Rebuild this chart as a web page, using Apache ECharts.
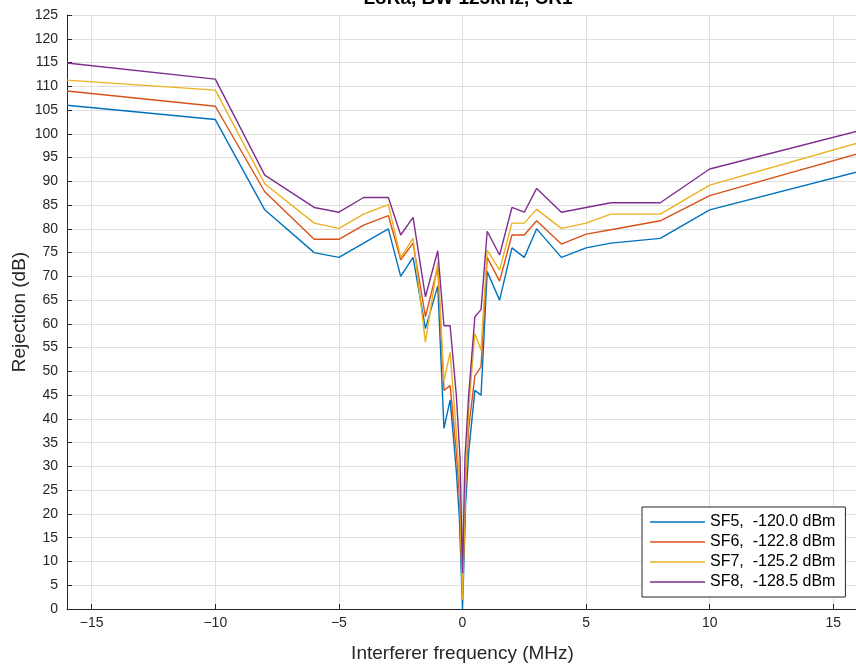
<!DOCTYPE html>
<html>
<head>
<meta charset="utf-8">
<script src="https://cdn.jsdelivr.net/npm/echarts@6/dist/echarts.min.js"></script>
<style>
html,body{margin:0;padding:0;background:#fff;}
#chart{width:856px;height:667px;}
</style>
</head>
<body>
<div id="chart"></div>
<script>
// Interferer frequency offsets (MHz)
var freq = [-16,-10,-8,-6,-5,-4,-3,-2.5,-2,-1.5,-1,-0.75,-0.5,-0.25,-0.125,-0.1,0,0.1,0.125,0.25,0.5,0.75,1,1.5,2,2.5,3,4,5,6,8,10,16];
// Rejection (dB)
var sf5 = [106,103,84,75,74,77,80,70,74,59,68,38,44,29,19,15,0,17,22,33,46,45,71,65,76,74,80,74,76,77,78,84,92];
var sf6 = [109,105.8,87.8,77.8,77.8,80.8,82.8,73.5,77,61.5,72,46,47,33,24,19,5,20,26,38,49,51,74,69,78.7,78.7,81.7,76.8,78.9,79.8,81.7,87,95.8];
var sf7 = [111.3,109.2,89.5,81.2,80.1,83.1,85.1,74,78,56.1,73,48,54,37,27,23,2,22,27,42,58,54.5,75.5,71.3,81.2,81.2,84.1,80.1,81.2,83.1,83.1,89.2,98.1];
var sf8 = [114.9,111.5,91.3,84.5,83.5,86.6,86.6,78.7,82.4,65.7,75.4,59.6,59.6,45,34,32,7.5,32,34,45,61.5,63,79.5,74.5,84.5,83.5,88.5,83.5,84.5,85.5,85.5,92.6,100.6];
var seriesNames = ['SF5,  -120.0 dBm','SF6,  -122.8 dBm','SF7,  -125.2 dBm','SF8,  -128.5 dBm'];
var xTicks = [-15,-10,-5,0,5,10,15];
var titleText = 'LoRa, BW 125kHz, CR1';
var xName = 'Interferer frequency (MHz)';
var yName = 'Rejection (dB)';

var colors = ['#0072BD','#D95319','#EDB120','#7E2F8E'];
var allSeries = [sf5, sf6, sf7, sf8];
function pairs(ys){ return freq.map(function(x,i){ return [x, ys[i]]; }); }
function fmt(v){ return String(v).replace('-', '\u2212'); }

var font = '"Liberation Sans", Arial, Helvetica, sans-serif';
var chart = echarts.init(document.getElementById('chart'), null, {renderer:'canvas'});
chart.setOption({
  backgroundColor:'#ffffff',
  animation:false,
  title:{
    text:titleText, left:463, textAlign:'center', top:-16,
    textStyle:{fontFamily:font, fontSize:19, fontWeight:'bold', color:'#000'}
  },
  grid:{left:67, right:-2, top:15, bottom:58, containLabel:false, outerBoundsMode:'none'},
  legend:{
    orient:'vertical', left:642, top:507,
    backgroundColor:'#fff', borderColor:'#262626', borderWidth:1, borderRadius:0,
    padding:[7,10,7,8], itemGap:4, itemWidth:55, itemHeight:16,
    textStyle:{fontFamily:font, fontSize:16, color:'#000'},
    data:seriesNames.map(function(n){ return {name:n, icon:'path://M0,0 L55,0 L55,1.4 L0,1.4 Z'}; })
  },
  xAxis:{
    type:'value', min:-16, max:16,
    name:xName, nameLocation:'middle', nameGap:35, nameMoveOverlap:false,
    nameTextStyle:{fontFamily:font, fontSize:19, color:'#262626'},
    axisLine:{show:true, onZero:false, lineStyle:{color:'#262626', width:1}},
    axisTick:{show:true, inside:true, length:5, customValues:xTicks, lineStyle:{color:'#262626'}},
    axisLabel:{customValues:xTicks, formatter:fmt, fontFamily:font, fontSize:14, color:'#262626', margin:7},
    splitLine:{show:true, lineStyle:{color:'#dfdfdf', width:1}}
  },
  yAxis:{
    type:'value', min:0, max:125, interval:5,
    name:yName, nameLocation:'middle', nameGap:38, nameMoveOverlap:false,
    nameTextStyle:{fontFamily:font, fontSize:19, color:'#262626'},
    axisLine:{show:true, onZero:false, lineStyle:{color:'#262626', width:1}},
    axisTick:{show:true, inside:true, length:5, lineStyle:{color:'#262626'}},
    axisLabel:{fontFamily:font, fontSize:14, color:'#262626', margin:9},
    splitLine:{show:true, lineStyle:{color:'#dfdfdf', width:1}}
  },
  series: allSeries.map(function(ys,i){
    return {
      name:seriesNames[i], type:'line', data:pairs(ys),
      symbol:'none', showSymbol:false,
      lineStyle:{color:colors[i], width:1.4},
      itemStyle:{color:colors[i]},
      z:2+i
    };
  })
});
</script>
</body>
</html>
